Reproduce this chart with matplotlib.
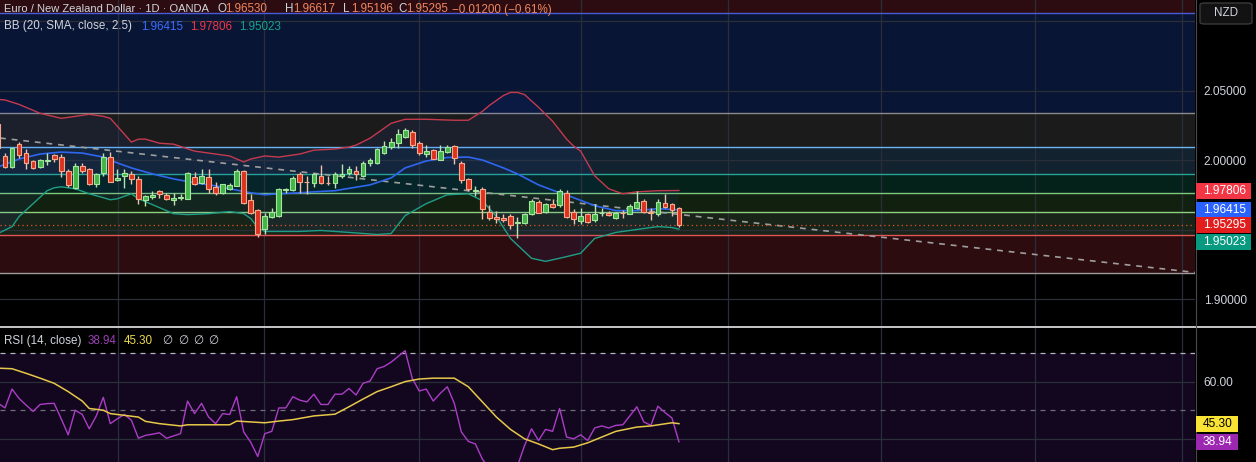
import numpy as np
import matplotlib
matplotlib.use("Agg")
import matplotlib.pyplot as plt
from matplotlib.patches import Rectangle, FancyBboxPatch
from matplotlib.transforms import IdentityTransform

plt.rcParams["font.family"] = ["Liberation Sans", "DejaVu Sans"]

# ---- daily candles (EUR/NZD), bar 0 is cut by the left edge ----
opens = [2.0257, 2.0029, 1.9950, 2.0114, 2.0050, 1.9993, 1.9950, 1.9993, 2.0036, 2.0021,
         1.9921, 1.9800, 1.9957, 1.9936, 1.9829, 1.9907, 2.0021, 1.9857, 1.9886, 1.9900,
         1.9864, 1.9714, 1.9736, 1.9779, 1.9750, 1.9714, 1.9729, 1.9721, 1.9879, 1.9836,
         1.9879, 1.9807, 1.9764, 1.9793, 1.9814, 1.9921, 1.9714, 1.9643, 1.9507, 1.9593,
         1.9600, 1.9786, 1.9786, 1.9900, 1.9843, 1.9836, 1.9886, 1.9838, 1.9836, 1.9886,
         1.9907, 1.9921, 1.9886, 1.9979, 1.9979, 2.0050, 2.0093, 2.0121, 2.0164, 2.0200,
         2.0121, 2.0043, 2.0071, 2.0000, 2.0057, 2.0100, 1.9979, 1.9864, 1.9779, 1.9793,
         1.9629, 1.9593, 1.9586, 1.9600, 1.9550, 1.9550, 1.9614, 1.9700, 1.9629, 1.9686,
         1.9679, 1.9764, 1.9629, 1.9564, 1.9614, 1.9571, 1.9618, 1.9621, 1.9586, 1.9621,
         1.9614, 1.9657, 1.9707, 1.9629, 1.9614, 1.9693, 1.9686, 1.96530]
highs = [2.0271, 2.0050, 2.0086, 2.0129, 2.0079, 2.0000, 2.0007, 2.0050, 2.0043, 2.0043,
         1.9936, 1.9979, 1.9979, 1.9943, 1.9907, 2.0050, 2.0057, 1.9936, 1.9936, 1.9921,
         1.9886, 1.9750, 1.9779, 1.9786, 1.9764, 1.9764, 1.9757, 1.9914, 1.9914, 1.9936,
         1.9936, 1.9843, 1.9829, 1.9836, 1.9936, 1.9929, 1.9757, 1.9650, 1.9621, 1.9657,
         1.9800, 1.9800, 1.9886, 1.9914, 1.9886, 1.9907, 1.9964, 1.9886, 1.9914, 1.9971,
         1.9957, 1.9957, 1.9993, 2.0014, 2.0086, 2.0136, 2.0157, 2.0221, 2.0229, 2.0214,
         2.0136, 2.0107, 2.0079, 2.0107, 2.0107, 2.0107, 1.9993, 1.9871, 1.9814, 1.9807,
         1.9679, 1.9636, 1.9614, 1.9614, 1.9593, 1.9621, 1.9721, 1.9714, 1.9693, 1.9721,
         1.9793, 1.9786, 1.9650, 1.9657, 1.9621, 1.9686, 1.9657, 1.9636, 1.9629, 1.9643,
         1.9686, 1.9779, 1.9721, 1.9657, 1.9721, 1.9757, 1.9693, 1.96617]
lows = [2.0064, 1.9943, 1.9943, 2.0014, 1.9936, 1.9936, 1.9943, 1.9964, 1.9986, 1.9879,
        1.9807, 1.9793, 1.9907, 1.9821, 1.9807, 1.9886, 1.9843, 1.9850, 1.9800, 1.9829,
        1.9686, 1.9671, 1.9721, 1.9729, 1.9714, 1.9679, 1.9714, 1.9721, 1.9821, 1.9829,
        1.9764, 1.9750, 1.9757, 1.9786, 1.9814, 1.9686, 1.9614, 1.9443, 1.9471, 1.9586,
        1.9593, 1.9764, 1.9779, 1.9764, 1.9757, 1.9807, 1.9829, 1.9821, 1.9800, 1.9871,
        1.9893, 1.9857, 1.9879, 1.9957, 1.9971, 2.0043, 2.0079, 2.0086, 2.0157, 2.0086,
        2.0036, 2.0021, 2.0007, 2.0000, 2.0050, 1.9971, 1.9836, 1.9779, 1.9743, 1.9579,
        1.9571, 1.9550, 1.9557, 1.9507, 1.9436, 1.9543, 1.9607, 1.9621, 1.9621, 1.9657,
        1.9664, 1.9586, 1.9543, 1.9543, 1.9550, 1.9557, 1.9600, 1.9600, 1.9579, 1.9586,
        1.9614, 1.9650, 1.9621, 1.9571, 1.9600, 1.9657, 1.9600, 1.95196]
closes = [2.0086, 1.9950, 2.0086, 2.0036, 1.9979, 1.9943, 2.0000, 2.0000, 2.0007, 1.9921,
          1.9821, 1.9957, 1.9921, 1.9829, 1.9900, 2.0021, 1.9843, 1.9871, 1.9907, 1.9864,
          1.9721, 1.9743, 1.9750, 1.9757, 1.9721, 1.9729, 1.9736, 1.9907, 1.9829, 1.9886,
          1.9793, 1.9764, 1.9829, 1.9821, 1.9921, 1.9693, 1.9621, 1.9471, 1.9600, 1.9629,
          1.9793, 1.9793, 1.9871, 1.9843, 1.9840, 1.9900, 1.9836, 1.9834, 1.9900, 1.9900,
          1.9936, 1.9900, 1.9979, 2.0000, 2.0079, 2.0100, 2.0129, 2.0186, 2.0214, 2.0107,
          2.0050, 2.0064, 2.0007, 2.0064, 2.0093, 2.0014, 1.9857, 1.9793, 1.9786, 1.9650,
          1.9586, 1.9579, 1.9571, 1.9536, 1.9557, 1.9614, 1.9707, 1.9621, 1.9686, 1.9664,
          1.9779, 1.9593, 1.9579, 1.9600, 1.9557, 1.9614, 1.9621, 1.9607, 1.9621, 1.9618,
          1.9671, 1.9700, 1.9629, 1.9621, 1.9700, 1.9664, 1.9643, 1.95295]

# ---- Bollinger bands (20, 2.5) ----
bb_upper_bars = [0, 1, 3, 6, 9, 11, 13, 15, 16, 17, 19, 20, 21, 23, 25, 28, 31, 33, 35, 36,
                 38, 40, 43, 45, 48, 50, 51, 53, 56, 58, 61, 65, 67, 69, 70, 72, 73, 74, 75, 77,
                 79, 81, 82, 83, 85, 87, 89, 91, 94, 97]
bb_upper = [2.0436, 2.0432, 2.0400, 2.0336, 2.0300, 2.0314, 2.0329, 2.0314, 2.0300, 2.0243,
            2.0129, 2.0150, 2.0150, 2.0121, 2.0114, 2.0064, 2.0043, 2.0029, 1.9986, 2.0007,
            2.0029, 2.0021, 2.0043, 2.0071, 2.0079, 2.0093, 2.0107, 2.0157, 2.0264, 2.0293,
            2.0293, 2.0286, 2.0286, 2.0350, 2.0393, 2.0464, 2.0486, 2.0486, 2.0471, 2.0379,
            2.0279, 2.0150, 2.0100, 2.0064, 1.9886, 1.9793, 1.9757, 1.9771, 1.9779, 1.97806]
bb_mid_bars = [0, 3, 6, 9, 12, 15, 17, 19, 22, 25, 28, 31, 33, 36, 38, 40, 43, 45, 48, 50,
               53, 56, 58, 61, 64, 67, 69, 72, 74, 77, 80, 82, 85, 88, 91, 94, 97]
bb_mid = [1.9950, 2.0007, 2.0043, 2.0057, 2.0050, 2.0021, 1.9979, 1.9943, 1.9900, 1.9864,
          1.9836, 1.9814, 1.9793, 1.9764, 1.9750, 1.9757, 1.9764, 1.9771, 1.9779, 1.9796,
          1.9821, 1.9871, 1.9943, 1.9993, 2.0018, 2.0021, 2.0000, 1.9943, 1.9900, 1.9821,
          1.9764, 1.9729, 1.9671, 1.9636, 1.9636, 1.9650, 1.96415]
bb_lower_bars = [0, 2, 3, 5, 7, 8, 9, 11, 13, 15, 16, 17, 19, 20, 22, 25, 27, 30, 33, 35,
                 36, 37, 38, 43, 46, 50, 54, 56, 58, 61, 64, 67, 69, 71, 73, 76, 78, 80, 83, 85,
                 88, 91, 94, 96, 97]
bb_lower = [1.9471, 1.9521, 1.9593, 1.9686, 1.9779, 1.9800, 1.9807, 1.9793, 1.9757, 1.9729,
            1.9714, 1.9721, 1.9757, 1.9721, 1.9679, 1.9614, 1.9607, 1.9614, 1.9629, 1.9614,
            1.9579, 1.9514, 1.9486, 1.9486, 1.9493, 1.9479, 1.9464, 1.9471, 1.9600, 1.9686,
            1.9750, 1.9757, 1.9707, 1.9593, 1.9436, 1.9293, 1.9271, 1.9293, 1.9329, 1.9436,
            1.9479, 1.9500, 1.9521, 1.9514, 1.95023]

# ---- fib-style levels, trend line, grid ----
fib_levels = [2.1055, 2.0338, 2.0094, 1.9899, 1.9763, 1.9626, 1.9460, 1.9187]
fib_line_colors = ["#4b5ad6", "#8a8a8a", "#6ab4f0", "#25a596", "#7fc77f", "#8fd080", "#e05555", "#9a9a9a"]
fib_zone_colors = ["#2c0c10", "#081534", "#1b1b1c", "#13222f", "#04211a", "#12210f", "#192418", "#2d0c10"]
trend_bars = [0.29, 170.5]
trend_prices = [2.0158, 1.9191]
price_grid = [2.10, 2.05, 2.00, 1.95, 1.90]
price_grid_labels = ["", "2.05000", "2.00000", "", "1.90000"]
month_bars = [17.1, 37.9, 60.0, 83.0, 104.0, 125.8, 147.7, 168.7]

# ---- RSI (14) and its MA ----
rsi = [52.5, 50.8, 57.4, 54.1, 51.8, 49.6, 52.0, 52.3, 52.4, 47.0,
       41.4, 50.0, 48.5, 43.5, 48.0, 54.5, 45.3, 47.0, 48.5, 46.5,
       40.2, 41.2, 41.6, 42.1, 40.2, 41.0, 41.8, 53.2, 48.8, 52.4,
       47.6, 45.3, 48.8, 48.5, 54.7, 42.4, 38.8, 33.8, 41.8, 42.6,
       50.8, 50.8, 54.7, 53.5, 52.9, 55.6, 52.0, 52.0, 55.6, 55.6,
       57.6, 55.3, 59.4, 60.2, 64.5, 65.3, 66.8, 68.8, 70.8, 61.2,
       56.7, 57.4, 53.2, 55.9, 58.2, 52.4, 42.4, 39.1, 38.2, 32.9,
       29.5, 28.8, 28.2, 27.0, 30.5, 37.6, 43.5, 39.4, 43.3, 42.6,
       50.6, 40.6, 40.0, 41.4, 39.4, 43.8, 44.5, 43.8, 44.7, 44.9,
       48.0, 51.2, 45.9, 44.7, 51.4, 49.2, 47.3, 38.94]
rsi_ma_bars = [0, 2, 4, 6, 8, 10, 12, 13, 15, 16, 18, 20, 21, 23, 26, 27, 30, 33, 34, 36,
               38, 40, 42, 45, 48, 50, 52, 54, 56, 58, 60, 62, 65, 67, 69, 71, 73, 75, 77, 79,
               80, 82, 84, 86, 88, 91, 93, 96, 97]
rsi_ma = [64.7, 64.5, 62.9, 61.2, 59.4, 56.5, 53.2, 50.6, 50.0, 48.8, 48.2, 47.6, 46.1, 45.3,
          44.5, 44.9, 44.9, 44.9, 46.2, 45.9, 45.6, 46.2, 46.7, 48.0, 48.6, 51.2, 53.9, 56.5,
          58.2, 60.0, 60.9, 61.2, 61.2, 58.2, 52.9, 47.6, 43.3, 40.0, 38.2, 36.2, 36.7, 37.1,
          38.6, 40.6, 42.6, 44.1, 44.5, 45.6, 45.3]

W, H = 1256, 462
TXT = "#d1d4dc"
GRID = "#2a2e39"

fig = plt.figure(figsize=(W / 100, H / 100), dpi=100, facecolor="black")
ax = fig.add_axes([0, 1 - 326 / H, 1195 / W, 326 / H])
rax = fig.add_axes([0, 0, 1195 / W, 135 / H])
for a in (ax, rax):
    a.set_facecolor("black")
    for s in a.spines.values():
        s.set_visible(False)
    a.set_xticks([])
    a.set_xlim(0.285, 170.51)

ax.set_ylim(1.88058, 2.11511)
rax.set_ylim(31.89, 79.09)

# zones and level lines
tops = [2.2] + fib_levels[:-1]
for top, bot, c in zip(tops, fib_levels, fib_zone_colors):
    ax.axhspan(bot, top, color=c, lw=0, zorder=0)
for lv, c in zip(fib_levels, fib_line_colors):
    ax.axhline(lv, color=c, lw=1.0, zorder=2)

for p in price_grid:
    ax.axhline(p, color=GRID, lw=0.9, zorder=1)
for b in month_bars:
    ax.axvline(b, color=GRID, lw=0.9, zorder=1)
    rax.axvline(b, color=GRID, lw=0.9, zorder=1)

# bollinger fill + lines
poly_x = bb_upper_bars + bb_lower_bars[::-1]
poly_y = bb_upper + bb_lower[::-1]
ax.fill(poly_x, poly_y, color="#2962ff", alpha=0.07, lw=0, zorder=2)
ax.plot(bb_upper_bars, bb_upper, color="#c43a4f", lw=1.0, zorder=4)
ax.plot(bb_mid_bars, bb_mid, color="#2f66f0", lw=1.2, zorder=4)
ax.plot(bb_lower_bars, bb_lower, color="#1f9e86", lw=1.0, zorder=4)

ax.plot(trend_bars, trend_prices, color="#9e9e9e", lw=1.2, dashes=(3.5, 3.5), zorder=3)
ax.axhline(closes[-1], color="#e0542f", lw=0.9, ls=(0, (1, 2.5)), zorder=3)

# candles
o = np.array(opens); h = np.array(highs); l = np.array(lows); c = np.array(closes)
x = np.arange(len(o))
up = c >= o
body_lo = np.minimum(o, c)
body_h = np.maximum(np.abs(c - o), 0.00015)
ax.vlines(x[up], l[up], h[up], color="#b9e3b2", lw=1.0, zorder=5)
ax.vlines(x[~up], l[~up], h[~up], color="#f2bfae", lw=1.0, zorder=5)
ax.bar(x[up], body_h[up], bottom=body_lo[up], width=0.68, color="#43b548",
       edgecolor="#a6e4a0", lw=0.8, zorder=6)
ax.bar(x[~up], body_h[~up], bottom=body_lo[~up], width=0.68, color="#dc3320",
       edgecolor="#f6a88c", lw=0.8, zorder=6)

# price scale
ax.yaxis.tick_right()
ax.set_yticks(price_grid)
ax.set_yticklabels(price_grid_labels)
ax.tick_params(axis="y", length=0, pad=6.3, labelcolor=TXT, labelsize=8.6)

# RSI panel
rax.axhspan(30, 70, color="#13061f", lw=0, zorder=0)
rax.axhline(60, color=GRID, lw=0.9, zorder=1)
rax.axhline(40, color=GRID, lw=0.9, zorder=1)
rax.axhline(70, color="#b2b5be", lw=0.9, dashes=(4, 4), zorder=2)
rax.axhline(50, color="#6d6f78", lw=0.9, dashes=(4, 4), zorder=2)
rax.plot(x, rsi, color="#ab3dc6", lw=1.0, zorder=3)
rax.plot(rsi_ma_bars, rsi_ma, color="#e6c84a", lw=1.1, zorder=4)
rax.yaxis.tick_right()
rax.set_yticks([60, 40])
rax.set_yticklabels(["60.00", ""])
rax.tick_params(axis="y", length=0, pad=6.3, labelcolor=TXT, labelsize=8.6)

# frame lines
fig.add_artist(plt.Line2D([0, 1], [1 - 326.5 / H] * 2, color="#d6d6d6", lw=1.3))
fig.add_artist(plt.Line2D([1195.5 / W] * 2, [0, 1], color="#4a4a4a", lw=0.8))


def put(px, py, s, color, size=8.4, weight="normal", ha="left"):
    fig.text(px / W, 1 - py / H, s, color=color, fontsize=size, fontweight=weight,
             ha=ha, va="center")


def tag(a, value, s, fc, tc, shift=0, width=55):
    yd = a.transData.transform((0, value))[1] - shift
    fig.add_artist(Rectangle((1196, yd - 8), width, 16, transform=IdentityTransform(),
                             fc=fc, ec="none", zorder=10))
    fig.text(1203, yd, s, transform=IdentityTransform(), color=tc, fontsize=8.6,
             ha="left", va="center", zorder=11)


tag(ax, bb_upper[-1], "1.97806", "#f23645", "white")
tag(ax, bb_mid[-1], "1.96415", "#2962ff", "white")
tag(ax, closes[-1], "1.95295", "#e11d1d", "white")
tag(ax, bb_lower[-1], "1.95023", "#089981", "white", shift=13.3)
tag(rax, rsi_ma[-1], "45.30", "#f9e335", "black", width=42)
tag(rax, rsi[-1], "38.94", "#9c27b0", "white", width=42)

fig.add_artist(FancyBboxPatch((1200 / W, 1 - 24 / H), 52 / W, 21 / H,
                              boxstyle="round,pad=0,rounding_size=0.004",
                              fc="#121212", ec="#3a3a3a", lw=1.0))
put(1226, 13, "NZD", TXT, size=8.4, ha="center")

# legends
put(4, 9.5, "Euro / New Zealand Dollar · 1D · OANDA", TXT, size=8.0)
ohlc = [(217, "O", "1.96530"), (285, "H", "1.96617"), (343, "L", "1.95196"), (398, "C", "1.95295")]
for px, k, v in ohlc:
    put(px, 9.5, k, TXT)
    put(px + 8, 9.5, v, "#f0875f")
put(452, 9.5, "\u22120.01200 (\u22120.61%)", "#f0875f")

put(4, 26.5, "BB (20, SMA, close, 2.5)", TXT)
put(141, 26.5, "1.96415", "#3d6cff")
put(190, 26.5, "1.97806", "#f23645")
put(239, 26.5, "1.95023", "#17a589")

put(4, 341, "RSI (14, close)", TXT)
put(88, 341, "38.94", "#9b3fb5")
put(124, 341, "45.30", "#ecd94a")
for px in (162, 178, 193, 208):
    put(px, 341, "\u2205", TXT)

fig.savefig("out.png", dpi=100, facecolor="black")
